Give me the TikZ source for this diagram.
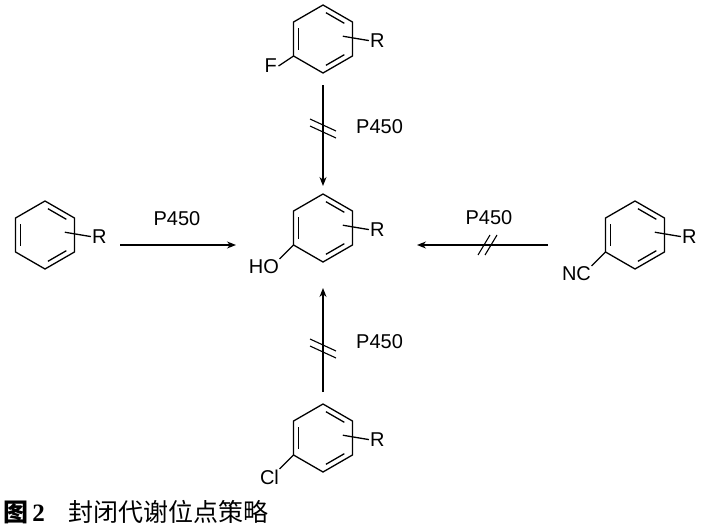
\documentclass[tikz,border=0pt]{standalone}
\usepackage{fontspec}
\setmainfont{Liberation Sans}
\newfontfamily\cjk{Noto Sans CJK SC}
\newfontfamily\capserif{Liberation Serif}
\usetikzlibrary{arrows.meta,calc}
\newcommand{\benz}[3]{%
  \begin{scope}[shift={(#1,#2)}]
  \coordinate (#3) at (0,0);
  \draw[bond] (90:34) -- (150:34) -- (210:34) -- (270:34) -- (330:34) -- (30:34) -- cycle;
  \draw[bond] ($(150:28)!0.12!(210:28)$) -- ($(150:28)!0.88!(210:28)$);
  \draw[bond] ($(30:28)!0.12!(90:28)$) -- ($(30:28)!0.88!(90:28)$);
  \draw[bond] ($(270:28)!0.12!(330:28)$) -- ($(270:28)!0.88!(330:28)$);
  \draw[bond] (-8:20) -- (2:46) coordinate (#3R);
  \node[lab,anchor=west,inner sep=1pt] at (#3R) {R};
  \end{scope}}
\begin{document}
\begin{tikzpicture}[x=1pt,y=-1pt,
  bond/.style={line width=1.3pt},
  arr/.style={line width=1.3pt,-{Stealth[length=9pt,width=7pt]}},
  lab/.style={font=\fontsize{20}{22}\selectfont,inner sep=1pt},
  hash/.style={line width=1.1pt}]
\useasboundingbox (0,0) rectangle (701,527);
\benz{323}{39}{top}
\draw[bond] (150:34) ++(323,39) -- ++(-15,10) node[lab,anchor=east] (F) {F};
\benz{323}{228}{mid}
\draw[bond] (150:34) ++(323,228) -- ++(-14,14) node[lab,anchor=north east,inner sep=0pt] (HO) {HO};
\benz{45}{235}{left}
\benz{635}{235}{right}
\draw[bond] (150:34) ++(635,235) -- ++(-14,14) node[lab,anchor=north east,inner sep=0pt] (NC) {NC};
\benz{323}{438}{bot}
\draw[bond] (150:34) ++(323,438) -- ++(-14,14) node[lab,anchor=north east,inner sep=0pt] (Cl) {Cl};
% arrows
\coordinate (a1) at (323,85); \coordinate (a2) at (323,186);
\draw[arr] (a1) -- (a2);
\draw[hash] (310,119) -- (336,131); \draw[hash] (310,126) -- (336,138);
\node[lab,anchor=west] (p1) at (355,127) {P450};
\coordinate (b1) at (120,245); \coordinate (b2) at (236,245);
\draw[arr] (b1) -- (b2);
\node[lab] (p2) at (177,219) {P450};
\coordinate (c1) at (548,245); \coordinate (c2) at (417,245);
\draw[arr] (c1) -- (c2);
\draw[hash] (478,255) -- (490,235); \draw[hash] (485,255) -- (497,235);
\node[lab] (p3) at (489,218) {P450};
\coordinate (d1) at (323,392); \coordinate (d2) at (323,288);
\draw[arr] (d1) -- (d2);
\draw[hash] (310,339) -- (336,351); \draw[hash] (310,346) -- (336,358);
\node[lab,anchor=west] (p4) at (355,342) {P450};
\node[anchor=west,inner sep=0pt] (cap) at (3,512) {\fontsize{25}{27}\selectfont{\cjk\bfseries 图}\,{\capserif\bfseries 2}\hspace{24pt}{\cjk 封闭代谢位点策略}};
\end{tikzpicture}
\end{document}
